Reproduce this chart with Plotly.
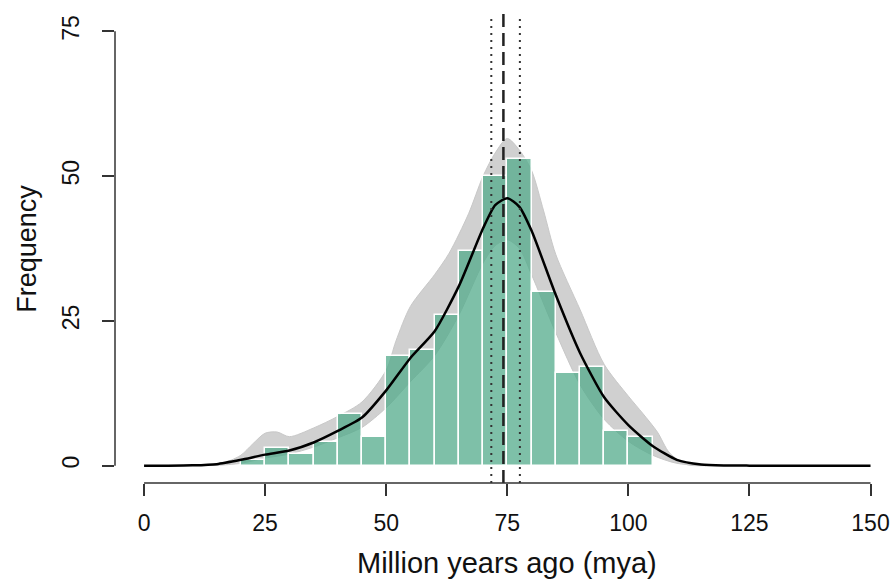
import plotly.graph_objects as go

# ---- data ----
bin_left = [20, 25, 30, 35, 40, 45, 50, 55, 60, 65, 70, 75, 80, 85, 90, 95, 100]
bin_width = 5
counts = [1, 3, 2, 4, 9, 5, 19, 20, 26, 37, 50, 53, 30, 16, 17, 6, 5]

# main density curve (scaled to frequency)
curve_x = [0, 5, 10, 15, 20, 25, 30, 35, 40, 45, 50, 55, 60, 65, 70, 72.5, 75, 77.5,
           80, 85, 90, 95, 100, 105, 110, 115, 120, 125, 130, 140, 150]
curve_y = [0, 0, 0.05, 0.25, 1.0, 1.9, 2.6, 4.0, 6.0, 8.3, 13.0, 18.6, 23.2, 31.0, 41.0,
           45.0, 46.2, 44.7, 40.6, 29.5, 19.5, 11.8, 7.0, 3.4, 1.0, 0.2, 0.03, 0, 0, 0, 0]

# envelope of the resampled density curves (grey)
upper_x = [12, 15, 17.5, 20, 22.5, 25, 27.5, 30, 35, 40, 45, 50, 52, 55, 60, 63, 67, 70,
           72.5, 75, 77.5, 80, 82.5, 85, 90, 95, 100, 103, 106, 108.5, 112, 116]
upper_y = [0, 0.3, 0.8, 1.8, 3.8, 5.6, 5.8, 5.0, 6.5, 8.5, 11.0, 16.5, 21.5, 27.5, 33.0,
           36.7, 43.5, 50.0, 54.0, 56.5, 54.5, 51.0, 44.0, 36.5, 27.0, 17.5, 12.0, 9.0,
           5.8, 2.2, 0.2, 0]
lower_x = [12, 15, 20, 25, 30, 35, 40, 45, 50, 55, 60, 65, 70, 72.5, 75, 77.5, 80, 85,
           90, 95, 100, 105, 110, 116]
lower_y = [0, 0.05, 0.4, 1.3, 2.0, 3.2, 4.8, 6.6, 10.0, 14.5, 19.0, 26.0, 35.0, 38.0,
           39.0, 37.5, 33.0, 23.0, 14.0, 8.0, 4.2, 1.8, 0.4, 0]

median_age = 74.2
ci_low, ci_high = 71.7, 77.6

x_ticks = [0, 25, 50, 75, 100, 125, 150]
y_ticks = [0, 25, 50, 75]

x_title = "Million years ago (mya)"
y_title = "Frequency"

X_RANGE = [-6, 154.85]
Y_RANGE = [-3, 78]

# ---- figure ----
fig = go.Figure()

# grey band on the base axes (drawn underneath)
fig.add_trace(go.Scatter(x=upper_x, y=upper_y, mode="lines",
                         line=dict(color="rgb(200,200,200)", width=1, shape="spline", smoothing=0.8),
                         hoverinfo="skip", showlegend=False))
fig.add_trace(go.Scatter(x=lower_x, y=lower_y, mode="lines", fill="tonexty",
                         fillcolor="rgb(208,208,208)",
                         line=dict(color="rgb(200,200,200)", width=1, shape="spline", smoothing=0.8),
                         hoverinfo="skip", showlegend=False))

# bars and black curve on an overlaid pair of axes (drawn on top)
fig.add_trace(go.Bar(x=[b + bin_width / 2 for b in bin_left], y=counts, width=bin_width,
                     xaxis="x2", yaxis="y2",
                     marker=dict(color="rgba(83,171,139,0.75)",
                                 line=dict(color="white", width=1.5)),
                     showlegend=False))

fig.add_trace(go.Scatter(x=curve_x, y=curve_y, mode="lines", xaxis="x2", yaxis="y2",
                         line=dict(color="black", width=2.5, shape="spline", smoothing=0.6),
                         showlegend=False))

shapes = []
shapes.append(dict(type="line", xref="x", yref="paper", x0=median_age, x1=median_age,
                   y0=0, y1=1, line=dict(color="#222", width=2.5, dash="13px,6px")))
for v in (ci_low, ci_high):
    shapes.append(dict(type="line", xref="x", yref="paper", x0=v, x1=v, y0=0, y1=1,
                       line=dict(color="#333", width=2, dash="2px,5px")))
# R-style axis lines spanning the tick range
shapes.append(dict(type="line", xref="x", yref="paper", x0=x_ticks[0], x1=x_ticks[-1],
                   y0=0, y1=0, line=dict(color="#333", width=1.5)))
shapes.append(dict(type="line", xref="paper", yref="y", x0=0, x1=0,
                   y0=y_ticks[0], y1=y_ticks[-1], line=dict(color="#333", width=1.5)))

fig.update_layout(
    width=894, height=585,
    margin=dict(l=115, r=0, t=14, b=102),
    plot_bgcolor="white", paper_bgcolor="white",
    bargap=0,
    font=dict(family="Liberation Sans, Arial, sans-serif", color="#111", size=23),
    shapes=shapes,
    xaxis=dict(range=X_RANGE, tickvals=x_ticks, ticktext=[str(t) for t in x_ticks],
               ticks="outside", ticklen=12, tickwidth=1.5, tickcolor="#333",
               showgrid=False, zeroline=False, showline=False,
               tickfont=dict(size=23), ticklabelstandoff=7),
    yaxis=dict(range=Y_RANGE, tickvals=y_ticks, ticktext=[str(t) for t in y_ticks],
               ticks="outside", ticklen=12, tickwidth=1.5, tickcolor="#333",
               showgrid=False, zeroline=False, showline=False, tickangle=-90,
               tickfont=dict(size=23), ticklabelstandoff=14),
    xaxis2=dict(range=X_RANGE, overlaying="x", visible=False, showgrid=False, zeroline=False),
    yaxis2=dict(range=Y_RANGE, overlaying="y", visible=False, showgrid=False, zeroline=False),
    annotations=[
        dict(text=x_title, xref="x", yref="paper", x=75, y=-0.17, showarrow=False,
             xanchor="center", yanchor="middle", font=dict(size=29)),
        dict(text=y_title, xref="paper", yref="paper", x=-0.114, y=0.5, showarrow=False,
             xanchor="center", yanchor="middle", textangle=-90, font=dict(size=27)),
    ],
)

fig.write_html("out.html")
